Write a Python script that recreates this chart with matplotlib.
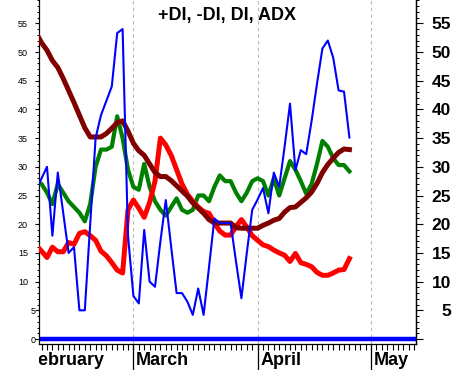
import matplotlib
matplotlib.use('Agg')
import matplotlib.pyplot as plt
import numpy as np
from matplotlib.ticker import MultipleLocator

plt.rcParams['font.family'] = ['Liberation Sans', 'DejaVu Sans']

# ---------------- data (trading-day index, values) ----------------
day_index = np.arange(-1, 58)

adx = [53.3, 51.6, 50.3, 48.5, 47.3, 45.4, 43.3, 41.2, 39.0, 36.8,
       35.2, 35.2, 35.2, 35.8, 36.7, 37.7, 38.0, 36.2, 34.1, 32.8,
       32.0, 30.5, 29.0, 28.3, 28.3, 27.6, 26.7, 25.8, 24.9, 23.7,
       22.8, 21.9, 20.8, 20.2, 20.2, 20.2, 20.2, 19.4, 19.3, 19.3,
       19.3, 19.3, 19.8, 20.2, 20.7, 21.0, 22.1, 22.9, 23.0, 23.8,
       24.6, 25.6, 27.1, 29.0, 30.4, 31.5, 32.5, 33.1, 33.0]

plus_di = [27.5, 27.0, 25.5, 23.5, 27.0, 25.5, 24.0, 23.0, 22.0, 20.5,
           23.5, 30.0, 33.0, 33.0, 33.5, 38.8, 35.0, 29.5, 26.5, 26.0,
           30.5, 26.5, 24.0, 22.5, 21.5, 23.0, 24.5, 22.5, 22.0, 22.5,
           25.0, 25.0, 24.0, 26.5, 28.5, 27.5, 27.5, 25.5, 24.0, 25.5,
           27.5, 28.0, 27.5, 25.0, 28.0, 25.0, 28.0, 31.0, 29.5, 27.5,
           25.3, 27.0, 30.5, 34.5, 33.5, 31.5, 30.3, 30.3, 29.2]

minus_di = [16.3, 15.3, 14.2, 16.0, 15.2, 15.2, 16.8, 16.5, 18.4, 18.7,
            18.0, 17.2, 15.3, 14.5, 13.3, 12.0, 11.5, 22.5, 24.2, 22.8,
            21.2, 23.8, 27.5, 35.0, 33.8, 32.0, 29.5, 27.0, 25.2, 24.0,
            23.0, 22.2, 21.9, 20.2, 18.8, 18.1, 18.1, 19.6, 20.8, 19.5,
            18.0, 17.2, 16.4, 16.1, 15.5, 15.0, 14.6, 13.5, 14.9, 13.3,
            13.0, 12.6, 11.6, 11.1, 11.1, 11.5, 12.0, 12.1, 14.0]

di = [26.0, 28.0, 30.0, 18.0, 29.0, 22.0, 15.0, 16.0, 5.0, 5.0,
      20.0, 35.0, 39.0, 41.5, 44.0, 53.3, 54.0, 18.0, 7.5, 6.2,
      19.0, 10.0, 9.1, 17.0, 24.2, 16.0, 8.0, 8.0, 6.5, 4.2,
      8.8, 4.2, 12.5, 21.0, 20.2, 20.2, 20.2, 13.5, 7.1, 15.0,
      22.5, 24.3, 26.3, 21.9, 29.0, 26.5, 33.5, 41.0, 29.4, 32.9,
      32.2, 38.0, 44.5, 50.6, 52.0, 49.0, 43.3, 43.1, 35.1]

months = ['February', 'March', 'April', 'May']
month_start = [-3, 17, 40, 61]

y_major = list(range(0, 56, 5))
left_labels = [str(v) for v in y_major]
right_labels = [''] + [str(v) for v in y_major[1:]]

title = '+DI, -DI, DI, ADX'

# ---------------- layout ----------------
W, H = 453, 370
XLIM = (-0.48, 69.33)
YLIM = (-0.87, 59.06)

fig = plt.figure(figsize=(W / 100, H / 100), dpi=100)
ax = fig.add_axes([39 / W, 1 - 344 / H, 377 / W, 344 / H])
ax.set_xlim(*XLIM)
ax.set_ylim(*YLIM)

for m in month_start:
    ax.axvline(m, color='#b8b8b8', lw=0.8, ls=(0, (3, 3)), zorder=1)

ax.axhline(0, color='#0000ff', lw=3.2, zorder=2)
ax.plot(day_index, plus_di, color='#008000', lw=3.0, zorder=3)
ax.plot(day_index, minus_di, color='#ff0000', lw=3.6, zorder=4)
ax.plot(day_index, adx, color='#800000', lw=3.6, zorder=5)
ax.plot(day_index, di, color='#0000ff', lw=1.5, zorder=6)

for s in ['top']:
    ax.spines[s].set_visible(False)
for s in ['left', 'right', 'bottom']:
    ax.spines[s].set_linewidth(0.9)
    ax.spines[s].set_color('black')

ax.set_xticks(np.arange(0, 70))
ax.tick_params(axis='x', direction='out', length=4.1, width=0.8,
               labelbottom=False, color='black')

ax.set_yticks(y_major, left_labels)
ax.yaxis.set_minor_locator(MultipleLocator(1))
ax.tick_params(axis='y', which='major', length=3.1, width=0.8,
               labelsize=6.5, pad=4.8)
ax.tick_params(axis='y', which='minor', length=1.8, width=0.7)
for v, tick in zip(y_major, ax.yaxis.get_major_ticks()):
    if v < 10:
        tick.label1.set_x(7.4 / 377)

axr = ax.twinx()
axr.set_ylim(*YLIM)
axr.set_yticks(y_major, right_labels, fontweight='bold', ha='right')
axr.yaxis.set_minor_locator(MultipleLocator(1))
axr.tick_params(axis='y', which='major', length=4.8, width=0.8,
                labelsize=12.5, pad=20.4)
axr.tick_params(axis='y', which='minor', length=2.4, width=0.7)
axr.spines['top'].set_visible(False)
axr.spines['left'].set_visible(False)
axr.spines['bottom'].set_visible(False)
axr.spines['right'].set_linewidth(0.9)

fig.text(0.5, 1 - 20 / H, title, ha='center', va='baseline',
         fontsize=13, fontweight='bold')

# month strip
axs = fig.add_axes([39 / W, 0, 377 / W, 26 / H])
axs.set_xlim(*XLIM)
axs.set_ylim(0, 1)
axs.axis('off')
for m, name in zip(month_start, months):
    axs.axvline(m, color='black', lw=0.9)
    axs.text(m + 0.5, 5 / 26, name, fontsize=13, fontweight='bold',
             ha='left', va='baseline', clip_on=True)

fig.savefig('out.png', dpi=100)
